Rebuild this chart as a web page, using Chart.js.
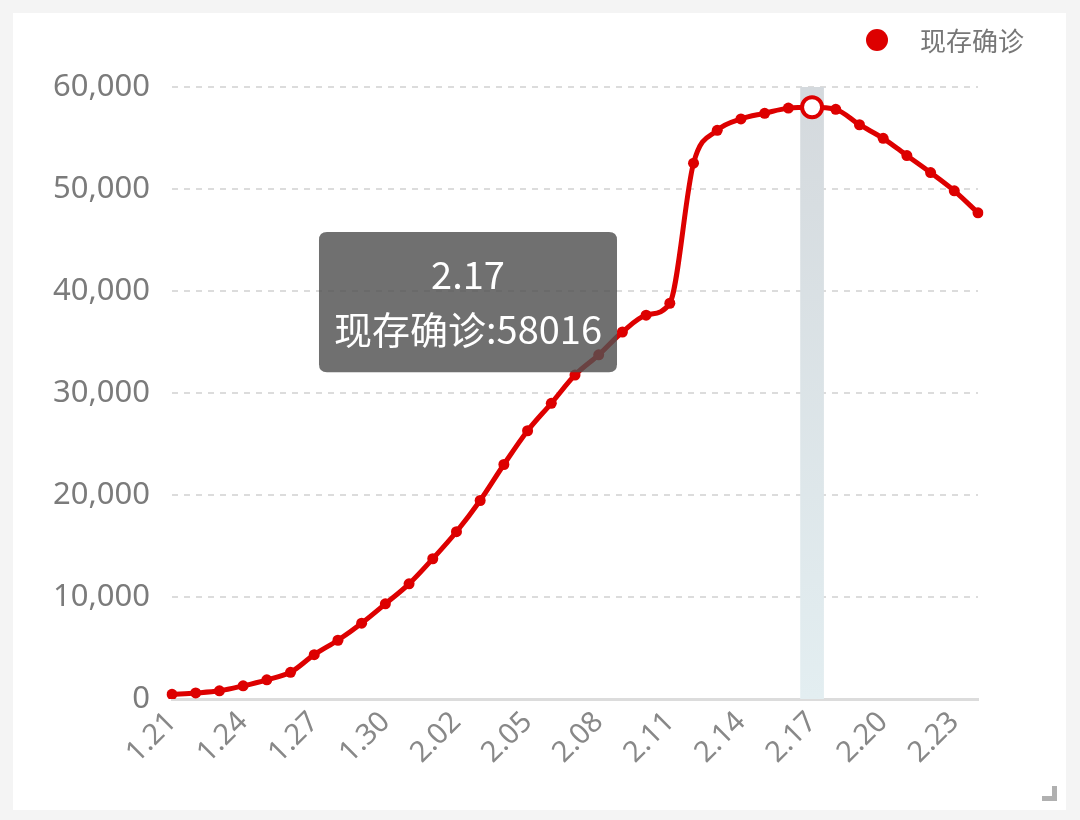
<!DOCTYPE html>
<html>
<head>
<meta charset="utf-8">
<script src="https://cdn.jsdelivr.net/npm/chart.js@4.4.1/dist/chart.umd.min.js"></script>
<style>
  html, body { margin: 0; padding: 0; background: #f4f4f4; }
  #card { position: absolute; left: 13px; top: 13px; width: 1053px; height: 797px; background: #fff; }
  #corner { position: absolute; left: 1042px; top: 786px; width: 10px; height: 10px;
            border-right: 5px solid #b0b0b0; border-bottom: 5px solid #b0b0b0; }
</style>
</head>
<body>
<div id="card"><canvas id="trend"></canvas></div>
<div id="corner"></div>
<script>
// dates shown on the x axis (every day, one label in three is printed)
var dates = ['1.21','1.22','1.23','1.24','1.25','1.26','1.27','1.28','1.29','1.30','1.31',
             '2.01','2.02','2.03','2.04','2.05','2.06','2.07','2.08','2.09','2.10',
             '2.11','2.12','2.13','2.14','2.15','2.16','2.17','2.18','2.19','2.20',
             '2.21','2.22','2.23','2.24'];
// 现存确诊 per day
var existing = [460, 590, 800, 1290, 1880, 2620, 4350, 5760, 7430, 9330, 11290,
                13750, 16400, 19460, 22990, 26300, 28990, 31760, 33740, 35980, 37630,
                38800, 52530, 55750, 56870, 57420, 57930, 58016, 57810, 56300, 54970,
                53280, 51610, 49820, 47670];
var seriesName = '现存确诊';
var focusDate = '2.17';
var yMax = 60000;
var yStep = 10000;

var focusIndex = dates.indexOf(focusDate);
var red = '#dd0000';
var FONT = '"Noto Sans CJK SC", "Noto Sans", sans-serif';
var AXIS_FONT = '"Noto Sans", "Noto Sans CJK SC", sans-serif';

// grey band behind the hovered category
var shadowBand = {
  id: 'shadowBand',
  beforeDatasetsDraw: function(chart) {
    var xs = chart.scales.x, area = chart.chartArea, ctx = chart.ctx;
    var w = xs.getPixelForValue(1) - xs.getPixelForValue(0);
    var cx = xs.getPixelForValue(focusIndex);
    var g = ctx.createLinearGradient(0, area.top, 0, area.bottom);
    g.addColorStop(0, '#d4d9dd');
    g.addColorStop(1, '#e3eef1');
    ctx.save();
    ctx.fillStyle = g;
    ctx.fillRect(cx - w / 2, area.top, w, area.bottom - area.top);
    ctx.restore();
  }
};

// legend in the top right corner
var cornerLegend = {
  id: 'cornerLegend',
  afterDraw: function(chart) {
    var ctx = chart.ctx, ds = chart.data.datasets[0];
    ctx.save();
    ctx.fillStyle = ds.borderColor;
    ctx.beginPath();
    ctx.arc(864, 27, 11, 0, Math.PI * 2);
    ctx.fill();
    ctx.fillStyle = '#777';
    ctx.font = '26px ' + FONT;
    ctx.textAlign = 'left';
    ctx.textBaseline = 'middle';
    ctx.fillText(ds.label, 907, 28);
    ctx.restore();
  }
};

Chart.Tooltip.positioners.pinned = function() {
  var a = this.chart.chartArea;
  return { x: a.left + 296, y: a.top + 145, xAlign: 'center', yAlign: 'top' };
};

var chart = new Chart(document.getElementById('trend'), {
  type: 'line',
  data: {
    labels: dates,
    datasets: [{
      label: seriesName,
      data: existing,
      borderColor: red,
      borderWidth: 5,
      backgroundColor: red,
      cubicInterpolationMode: 'monotone',
      pointRadius: function(c) { return c.dataIndex === focusIndex ? 10 : 5.5; },
      pointBackgroundColor: function(c) { return c.dataIndex === focusIndex ? '#fff' : red; },
      pointBorderColor: red,
      pointBorderWidth: function(c) { return c.dataIndex === focusIndex ? 4 : 0; }
    }]
  },
  options: {
    responsive: true,
    maintainAspectRatio: false,
    animation: false,
    events: [],
    layout: { padding: { top: 74, right: 88, left: 0, bottom: 0 } },
    scales: {
      x: {
        grid: { display: false, drawTicks: false },
        border: { display: true, color: '#dcdcdc', width: 3 },
        ticks: {
          autoSkip: false, maxRotation: 45, minRotation: 45, padding: 6,
          color: '#888', font: { size: 29, family: AXIS_FONT },
          callback: function(v, i) { return i % 3 === 0 ? dates[i] : ''; }
        },
        afterFit: function(s) { s.height = 111; }
      },
      y: {
        min: 0, max: yMax,
        grid: { color: '#dcdcdc', lineWidth: 2, drawTicks: false },
        border: { display: false, dash: [6, 6] },
        ticks: {
          stepSize: yStep, padding: 22, color: '#7b7b7b',
          font: { size: 31, family: AXIS_FONT },
          callback: function(v) { return v.toLocaleString('en-US'); }
        },
        afterFit: function(s) { s.width = 159; }
      }
    },
    plugins: {
      legend: { display: false },
      tooltip: {
        position: 'pinned',
        xAlign: 'center', yAlign: 'top',
        caretSize: 0, caretPadding: 0,
        backgroundColor: 'rgba(80,80,80,0.82)',
        cornerRadius: 8,
        displayColors: false,
        titleAlign: 'center', bodyAlign: 'center',
        titleColor: '#fff', bodyColor: '#fff',
        titleFont: { size: 38, weight: 'normal', family: FONT, lineHeight: 1.2 },
        bodyFont: { size: 38, family: FONT, lineHeight: 1.2 },
        titleMarginBottom: 9,
        padding: { top: 20, bottom: 20, left: 15, right: 15 },
        callbacks: {
          title: function(items) { return dates[items[0].dataIndex]; },
          label: function(c) { return seriesName + ':' + c.raw; }
        }
      }
    }
  },
  plugins: [shadowBand, cornerLegend]
});

var act = [{ datasetIndex: 0, index: focusIndex }];
chart.tooltip.setActiveElements(act, { x: 0, y: 0 });
chart.update();
</script>
</body>
</html>
